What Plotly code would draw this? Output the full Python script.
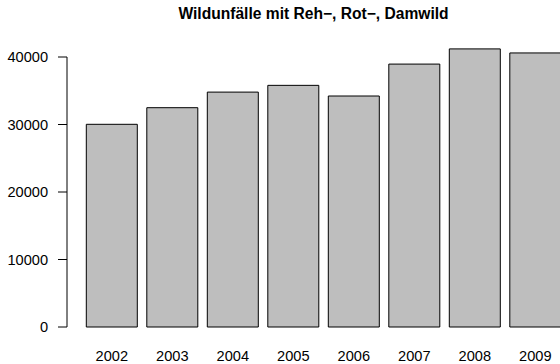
import plotly.graph_objects as go

# Wildlife collisions with roe, red and fallow deer per year
years = ["2002", "2003", "2004", "2005", "2006", "2007", "2008", "2009"]
accidents = [30030, 32490, 34800, 35800, 34220, 38950, 41200, 40600]
y_ticks = [0, 10000, 20000, 30000, 40000]

positions = list(range(len(years)))

fig = go.Figure(
    go.Bar(
        x=positions,
        y=accidents,
        width=0.843,
        marker=dict(color="#BEBEBE", line=dict(color="black", width=1)),
        hoverinfo="skip",
    )
)

# left axis line only spans the tick range
fig.add_shape(
    type="line", xref="paper", yref="y",
    x0=0, x1=0, y0=y_ticks[0], y1=y_ticks[-1],
    line=dict(color="black", width=1),
)
# short visible tick marks (the axis' own ticks are longer and transparent
# so the labels sit further from the axis)
tick_len = 9 / 493
for v in y_ticks:
    fig.add_shape(
        type="line", xref="paper", yref="y",
        x0=-tick_len, x1=0, y0=v, y1=v,
        line=dict(color="black", width=1),
    )

font = "Liberation Sans, Arial, Helvetica, sans-serif"

fig.update_layout(
    width=560,
    height=364,
    margin=dict(l=67, r=0, t=30, b=19),
    paper_bgcolor="white",
    plot_bgcolor="white",
    showlegend=False,
    title=dict(
        text="<b>Wildunfälle mit Reh\u2212, Rot\u2212, Damwild</b>",
        x=0.5, xref="paper", xanchor="center",
        y=1 - 14 / 364, yref="container", yanchor="middle",
        font=dict(family=font, size=15.6, color="black"),
    ),
    font=dict(family=font, size=14.6, color="black"),
)

fig.update_xaxes(
    range=[-0.7405, 7.408],
    tickvals=positions,
    ticktext=years,
    showgrid=False,
    zeroline=False,
    showline=False,
    ticks="",
    automargin=False,
    ticklabeloverflow="allow",
    tickfont=dict(size=14.6, color="black"),
)

fig.update_yaxes(
    range=[-2667, 44000],
    tickvals=y_ticks,
    ticktext=[str(v) for v in y_ticks],
    showgrid=False,
    zeroline=False,
    showline=False,
    ticks="outside",
    ticklen=15,
    tickcolor="rgba(0,0,0,0)",
    tickwidth=1,
    automargin=False,
    tickfont=dict(size=14.6, color="black"),
)

fig.write_html("out.html")
